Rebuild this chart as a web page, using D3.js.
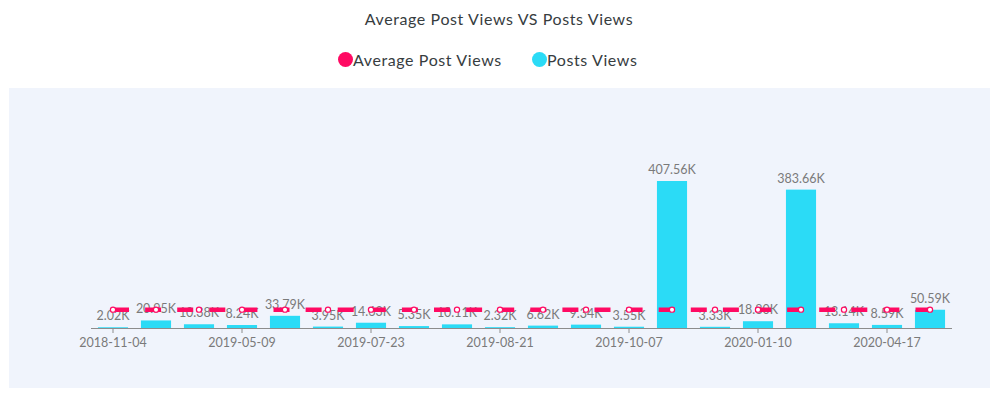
<!DOCTYPE html>
<html>
<head>
<meta charset="utf-8">
<script src="https://cdn.jsdelivr.net/npm/d3@7"></script>
<style>
  html, body { margin: 0; padding: 0; background: #ffffff; }
  svg { display: block; }
  text { font-family: Lato, "Noto Sans", sans-serif; }
</style>
</head>
<body>
<svg id="chart" width="999" height="393"></svg>
<script>
const categories = [
  "2018-11-04", "2019-01-15", "2019-03-20", "2019-05-09", "2019-06-05",
  "2019-07-02", "2019-07-23", "2019-08-01", "2019-08-12", "2019-08-21",
  "2019-09-05", "2019-09-20", "2019-10-07", "2019-11-05", "2019-12-10",
  "2020-01-10", "2020-02-15", "2020-03-20", "2020-04-17", "2020-05-20"
];
const postsViews = [
  2020, 20950, 10380, 8240, 33790, 3950, 14630, 5350, 10110, 2320,
  6620, 9340, 3550, 407560, 3330, 18800, 383660, 13140, 8590, 50590
];
const avgPostViews = [
  50846, 50846, 50846, 50846, 50846, 50846, 50846, 50846, 50846, 50846,
  50846, 50846, 50846, 50846, 50846, 50846, 50846, 50846, 50846, 50846
];
const tickLabels = ["2018-11-04", "2019-05-09", "2019-07-23", "2019-08-21", "2019-10-07", "2020-01-10", "2020-04-17"];
const seriesNames = ["Average Post Views", "Posts Views"];
const colors = ["#FF0A63", "#2BDBF6"];

const svg = d3.select("#chart");

// background panel
svg.append("rect").attr("x", 9).attr("y", 88).attr("width", 981).attr("height", 300).attr("fill", "#F0F4FC");

// title
svg.append("text").attr("x", 499).attr("y", 25).attr("text-anchor", "middle")
  .attr("font-size", 16).attr("letter-spacing", 0.6).attr("fill", "#373d3f").text("Average Post Views VS Posts Views");

// legend
const legendItems = [
  { name: seriesNames[0], color: colors[0], cx: 345.5, tx: 353 },
  { name: seriesNames[1], color: colors[1], cx: 539.5, tx: 547 }
];
legendItems.forEach(d => {
  svg.append("circle").attr("cx", d.cx).attr("cy", 59.5).attr("r", 7.5).attr("fill", d.color);
  svg.append("text").attr("x", d.tx).attr("y", 66).attr("font-size", 16).attr("letter-spacing", 0.6)
    .attr("fill", "#373d3f").text(d.name);
});

const x = d3.scaleBand().domain(categories).range([91.5, 951.5]).paddingInner(0.3).paddingOuter(0.15);
const y = d3.scaleLinear().domain([0, 450000]).range([328, 165.7]);

// bars
svg.append("g").selectAll("rect").data(postsViews).join("rect")
  .attr("x", (d, i) => x(categories[i]))
  .attr("y", d => y(d))
  .attr("width", x.bandwidth())
  .attr("height", d => y(0) - y(d))
  .attr("fill", colors[1]);

// x axis
const axis = d3.axisBottom(x).tickValues(tickLabels).tickSize(5).tickSizeOuter(0);
const gx = svg.append("g").attr("transform", "translate(0,328)").call(axis);
gx.select(".domain").attr("stroke", "#8c8c8c").attr("d", "M91,0.5H952");
gx.selectAll(".tick line").attr("stroke", "#8c8c8c");
gx.selectAll(".tick text").attr("fill", "#7a7a7a").attr("font-size", 12.5).attr("dy", "0.85em")
  .style("font-family", "Lato, 'Noto Sans', sans-serif");

// data labels
svg.append("g").selectAll("text").data(postsViews).join("text")
  .attr("x", (d, i) => x(categories[i]) + x.bandwidth() / 2)
  .attr("y", d => y(d) - 7)
  .attr("text-anchor", "middle")
  .attr("font-size", 12.5)
  .attr("fill", "#7a7a7a")
  .text(d => (d / 1000).toFixed(2) + "K");

// average line
const line = d3.line()
  .x((d, i) => x(categories[i]) + x.bandwidth() / 2)
  .y(d => y(d));
svg.append("path").datum(avgPostViews)
  .attr("d", line)
  .attr("fill", "none")
  .attr("stroke", colors[0])
  .attr("stroke-width", 4.5)
  .attr("stroke-dasharray", "16,16.1");

svg.append("g").selectAll("circle").data(avgPostViews).join("circle")
  .attr("cx", (d, i) => x(categories[i]) + x.bandwidth() / 2)
  .attr("cy", d => y(d))
  .attr("r", 2.6)
  .attr("fill", "#ffffff")
  .attr("stroke", colors[0])
  .attr("stroke-width", 1.2);
</script>
</body>
</html>
